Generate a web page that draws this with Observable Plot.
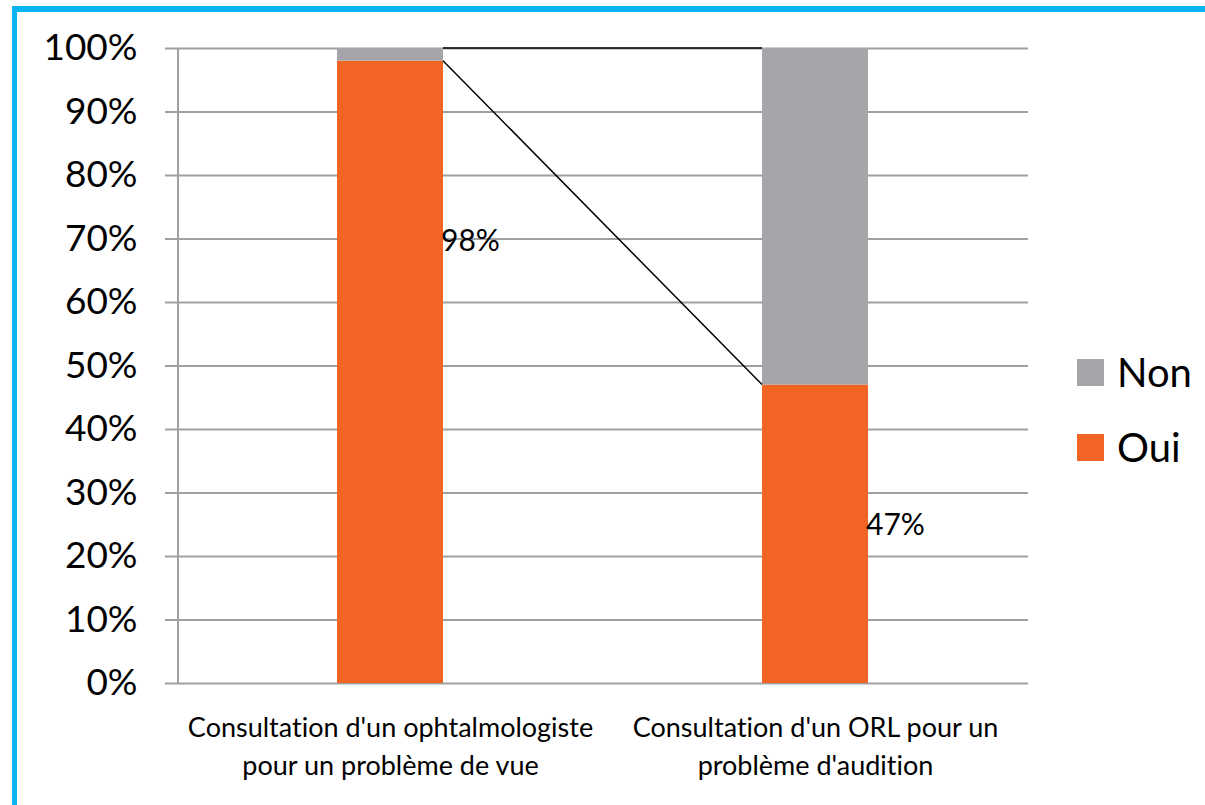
<!DOCTYPE html>
<html><head><meta charset="utf-8">
<script src="https://cdn.jsdelivr.net/npm/d3@7"></script>
<script src="https://cdn.jsdelivr.net/npm/@observablehq/plot@0.6"></script>
<style>
body{margin:0;background:#fff;}
#wrap{position:relative;width:1205px;height:805px;overflow:hidden;font-family:Lato,sans-serif;font-variant-ligatures:none;}
#wrap svg text{font-variant-ligatures:none;}
#border{position:absolute;left:12px;top:6px;width:1300px;height:900px;border-left:5px solid #0BB4F0;border-top:6px solid #0BB4F0;}
#chart{position:absolute;left:0;top:0;}
.leg{position:absolute;left:1077px;display:flex;align-items:center;font-size:40px;color:#000;}
.leg span.sw{display:inline-block;width:27px;height:27px;margin-right:13px;}
</style></head><body>
<div id="wrap"><div id="border"></div><div id="chart"></div>
<div class="leg" style="top:348px"><span class="sw" style="background:#A5A5AA"></span>Non</div>
<div class="leg" style="top:423px"><span class="sw" style="background:#F26424"></span>Oui</div>
</div>
<script>
const categories = ["Consultation d'un ophtalmologiste\npour un problème de vue", "Consultation d'un ORL pour un\nproblème d'audition"];
const series = ["Oui", "Non"];
const colors = ["#F26424", "#A5A5AA"];
const oui = [0.98, 0.47];
const non = [0.02, 0.53];
const labels = ["98%", "47%"];
const labelY = [0.692, 0.245];
const yTicks = [0, 0.1, 0.2, 0.3, 0.4, 0.5, 0.6, 0.7, 0.8, 0.9, 1.0];

const table = [];
categories.forEach((c, i) => {
  table.push({cat: c, series: "Oui", value: oui[i]});
  table.push({cat: c, series: "Non", value: non[i]});
});

const plot = Plot.plot({
  width: 1205, height: 805,
  marginLeft: 178, marginRight: 177, marginTop: 48, marginBottom: 122,
  style: {fontFamily: "Lato, sans-serif", background: "transparent", overflow: "visible"},
  x: {domain: categories, paddingInner: 0.75, paddingOuter: 0.375, label: null},
  y: {domain: [0, 1], label: null},
  color: {domain: series, range: colors},
  marks: [
    Plot.ruleY(yTicks, {stroke: "#A0A0A0", strokeWidth: 2}),
    Plot.axisY({ticks: yTicks, tickFormat: d3.format(".0%"), tickSize: 13, tickPadding: 28, fontSize: 37, stroke: "#A0A0A0", strokeWidth: 2, fill: "#000", label: null}),
    Plot.axisX({tickSize: 0, tickPadding: 26, fontSize: 27, lineHeight: 1.41, fill: "#000", label: null}),
    Plot.barY(table, Plot.stackY({x: "cat", y: "value", fill: "series", order: series}))
  ]
});
document.getElementById("chart").appendChild(plot);

const xs = plot.scale("x"), ys = plot.scale("y");
const bw = xs.bandwidth;
const svg = d3.select(plot);
// y axis line
svg.append("line").attr("x1", 178).attr("x2", 178)
  .attr("y1", ys.apply(1)).attr("y2", ys.apply(0))
  .attr("stroke", "#A0A0A0").attr("stroke-width", 2);
const x0 = xs.apply(categories[0]), x1 = xs.apply(categories[1]);
// series lines
svg.append("line").attr("x1", x0 + bw).attr("x2", x1)
  .attr("y1", ys.apply(oui[0] + non[0])).attr("y2", ys.apply(oui[1] + non[1]))
  .attr("stroke", "#000").attr("stroke-width", 1.5);
svg.append("line").attr("x1", x0 + bw).attr("x2", x1)
  .attr("y1", ys.apply(oui[0])).attr("y2", ys.apply(oui[1]))
  .attr("stroke", "#000").attr("stroke-width", 1.5);
categories.forEach((c, i) => {
  svg.append("text").attr("x", xs.apply(c) + bw - 2).attr("y", ys.apply(labelY[i]))
    .attr("text-anchor", "start")
    .attr("dominant-baseline", "middle").attr("font-size", 30)
    .attr("font-family", "Lato, sans-serif").attr("fill", "#000").text(labels[i]);
});
</script>
</body></html>
